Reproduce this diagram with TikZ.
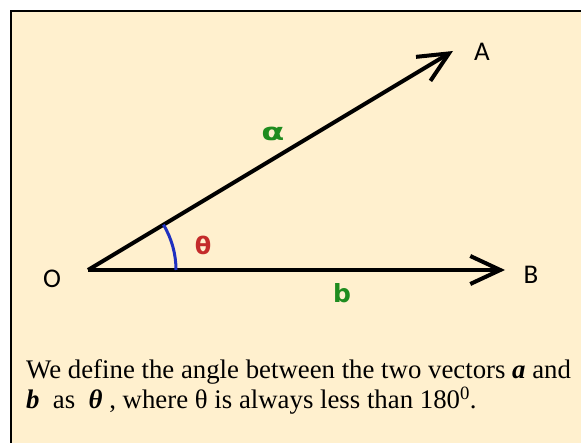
\documentclass[tikz,border=0pt]{standalone}
\usepackage{fontspec}
\setmainfont{Liberation Serif}
\newfontfamily\lblfont{Carlito}
\newfontfamily\symfont{DejaVu Sans}
\usetikzlibrary{arrows.meta}
\definecolor{bgcream}{HTML}{FFF0CE}
\definecolor{lblgreen}{HTML}{1F8C1F}
\definecolor{lblred}{HTML}{C42B2B}
\definecolor{arcblue}{HTML}{1F30C0}
\tikzset{
  vec/.style={line width=4pt, -{Straight Barb[length=30pt,width=28pt,line width=4pt]}},
  ptlabel/.style={font=\lblfont\fontsize{27}{27}\selectfont, inner sep=0pt},
  greeklbl/.style={font=\symfont\bfseries\fontsize{24}{24}\selectfont, inner sep=0pt},
  bodytext/.style={font=\fontsize{26.8}{30}\selectfont, inner sep=0pt, anchor=base west}
}
\begin{document}
\begin{tikzpicture}[x=1pt,y=-1pt]
\useasboundingbox (0,0) rectangle (581,443);
\begin{scope}
\clip (0,0) rectangle (581,443);
\draw[line width=2.5pt, fill=bgcream] (11,11) rectangle (620,480);
\end{scope}
\coordinate (O) at (88,270);
\coordinate (Atip) at (453,51);
\coordinate (Btip) at (505,270);
\draw[vec] (O) -- (Atip);
\draw[vec] (O) -- (Btip);
\draw[arcblue, line width=3pt] (176,270) arc[start angle=0, end angle=-31, radius=88];
\node[ptlabel] (Ol) at (52,279) {O};
\node[ptlabel] (Al) at (482,52) {A};
\node[ptlabel] (Bl) at (531,275) {B};
\node[greeklbl, text=lblgreen] (alpha) at (273,134) {\scalebox{1.4}[1]{α}};
\node[greeklbl, text=lblred] (theta) at (203,245) {θ};
\node[greeklbl, text=lblgreen, font=\symfont\bfseries\fontsize{25}{25}\selectfont] (bl) at (342,293) {b};
\node[bodytext] (line1) at (26,379) {We define the angle between the two vectors \textbf{\textit{a}} and};
\node[bodytext] (line2) at (26,409) {\textbf{\textit{b}}\ \ as\ \ \textbf{\textit{θ}}\ , where θ is always less than 180\textsuperscript{0}.};
\end{tikzpicture}
\end{document}
